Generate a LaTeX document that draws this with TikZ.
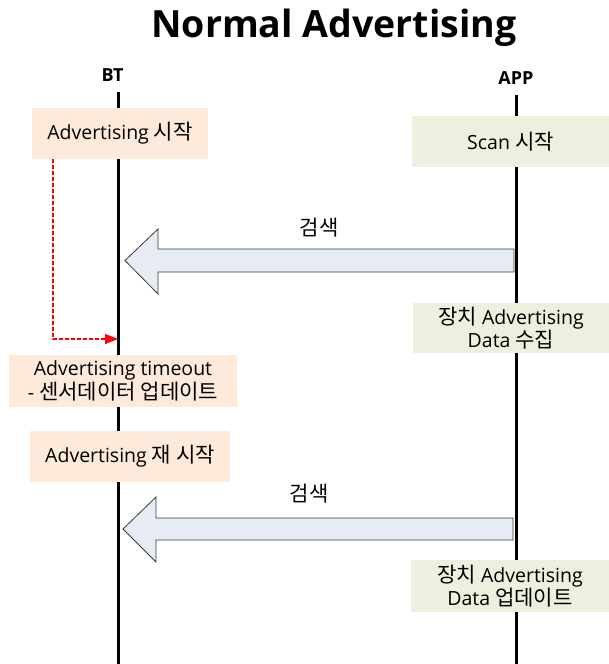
\documentclass[tikz,border=0pt]{standalone}
\usepackage{fontspec}
\setmainfont{Open Sans}
\newfontfamily\kr[Scale=1.08]{Noto Sans CJK KR}
\usetikzlibrary{arrows.meta}
\definecolor{peach}{HTML}{FDEADA}
\definecolor{sage}{HTML}{EBF1DE}
\definecolor{arrowfill}{HTML}{E7ECF4}
\definecolor{arrowline}{HTML}{3A3A3A}
\definecolor{timerred}{HTML}{FF0000}
\begin{document}
\begin{tikzpicture}[x=1pt,y=-1pt,
  lifeline/.style={line width=3pt,black},
  btbox/.style={fill=peach,draw=none,inner sep=0pt,align=center,
    font=\fontsize{19.5}{23.5}\selectfont},
  appbox/.style={fill=sage,draw=none,inner sep=0pt,align=center,
    font=\fontsize{19.5}{23.5}\selectfont},
  msg/.style={fill=arrowfill,draw=arrowline,line width=0.8pt,line join=miter},
  msglabel/.style={font=\fontsize{19.5}{22}\selectfont\kr},
  actor/.style={font=\fontsize{18}{20}\selectfont\bfseries},
  timer/.style={color=timerred,line width=1.1pt,dash pattern=on 4pt off 2pt,
    -{Triangle[length=13pt,width=10pt]}}]
\useasboundingbox (0,0) rectangle (609,664);

% title
\node[font=\fontsize{37.5}{42}\selectfont\bfseries] (title) at (334,28) {Normal Advertising};

% actors
\node[actor] (bt) at (112.5,75) {BT};
\node[actor] (app) at (516,78.5) {APP};

% lifelines
\coordinate (btTop) at (118,92);
\coordinate (btBot) at (118,664);
\coordinate (appTop) at (516,95);
\coordinate (appBot) at (516,664);
\draw[lifeline] (btTop) -- (btBot);
\draw[lifeline] (appTop) -- (appBot);

% BT side steps
\node[btbox,minimum width=176pt,minimum height=51pt] (advstart) at (120,133.5)
  {Advertising {\kr 시작}};
\node[btbox,minimum width=228pt,minimum height=52pt] (timeout) at (123,381)
  {Advertising timeout\\- {\kr 센서데이터 업데이트}};
\node[btbox,minimum width=200pt,minimum height=51pt] (restart) at (130,456.5)
  {Advertising {\kr 재 시작}};

% APP side steps
\node[appbox,minimum width=197pt,minimum height=51pt] (scan) at (510.5,141.5)
  {Scan {\kr 시작}};
\node[appbox,minimum width=196pt,minimum height=50pt] (collect) at (511,328)
  {{\kr 장치} Advertising\\Data {\kr 수집}};
\node[appbox,minimum width=198pt,minimum height=52pt] (update) at (510,586)
  {{\kr 장치} Advertising\\Data {\kr 업데이트}};

% scan messages: block arrows from APP to BT
\coordinate (s1) at (514,260.5);
\coordinate (t1) at (125,260.5);
\draw[msg] ([yshift=-11.5pt]s1) -- ([xshift=33pt,yshift=-11.5pt]t1)
  -- ([xshift=33pt,yshift=-33.5pt]t1) -- (t1)
  -- ([xshift=33pt,yshift=31.5pt]t1) -- ([xshift=33pt,yshift=11.5pt]t1)
  -- ([yshift=11.5pt]s1) -- cycle;
\node[msglabel] (find1) at (319,228) {검색};

\coordinate (s2) at (513,529);
\coordinate (t2) at (123,529);
\draw[msg] ([yshift=-11pt]s2) -- ([xshift=33pt,yshift=-11pt]t2)
  -- ([xshift=33pt,yshift=-33pt]t2) -- (t2)
  -- ([xshift=33pt,yshift=32pt]t2) -- ([xshift=33pt,yshift=11pt]t2)
  -- ([yshift=11pt]s2) -- cycle;
\node[msglabel] (find2) at (309,494) {검색};

% advertising timer
\coordinate (timerStart) at (53,159);
\coordinate (timerEnd) at (118,339);
\draw[timer] (timerStart) |- (timerEnd);
\end{tikzpicture}
\end{document}
